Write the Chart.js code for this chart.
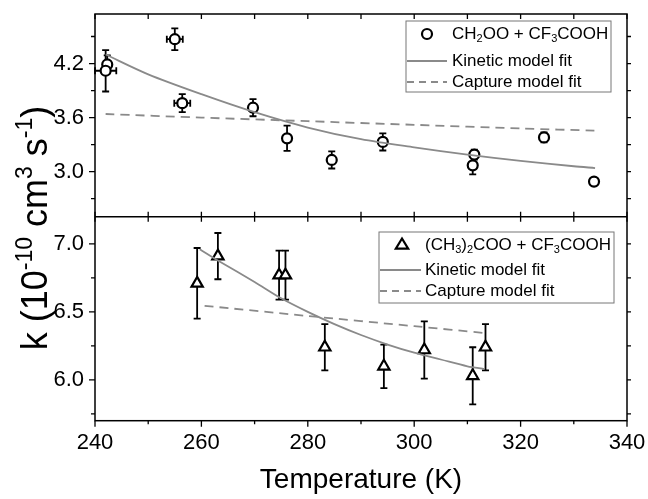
<!DOCTYPE html>
<html><head><meta charset="utf-8">
<script src="https://cdn.jsdelivr.net/npm/chart.js@4.4.0/dist/chart.umd.min.js"></script>
<style>html,body{margin:0;padding:0;background:#fff;}#wrap{position:relative;width:648px;height:499px;}</style>
</head><body><div id="wrap"><canvas id="c" width="648" height="499"></canvas></div>
<script>
// ---- data ----
const xTicks = [240, 260, 280, 300, 320, 340];
const topTicks = [3.0, 3.6, 4.2];
const botTicks = [6.0, 6.5, 7.0];

// CH2OO + CF3COOH
const topTemp  = [242.3, 242.0, 255.0, 256.4, 269.7, 276.1, 284.5, 294.1, 311.3, 311.0, 324.4, 333.8];
const topK     = [4.19, 4.12, 4.47, 3.76, 3.71, 3.37, 3.13, 3.33, 3.19, 3.07, 3.38, 2.89];
const topKErr  = [0.10, 0.23, 0.12, 0.10, 0.095, 0.14, 0.095, 0.095, 0.055, 0.10, 0.055, 0.04];
const topTErr  = [0, 2.0, 1.5, 1.5, 0, 0, 0, 0, 0, 0, 0, 0];
const topKinT  = [242, 250, 260, 270, 280, 290, 300, 310, 320, 330, 334];
const topKinK  = [4.30, 4.08, 3.86, 3.66, 3.49, 3.36, 3.27, 3.19, 3.12, 3.06, 3.04];
const topCapT  = [242, 260, 280, 300, 320, 334];
const topCapK  = [3.64, 3.60, 3.56, 3.52, 3.48, 3.455];

// (CH3)2COO + CF3COOH
const botTemp  = [259.2, 263.1, 274.6, 275.8, 283.2, 294.3, 301.9, 311.0, 313.4];
const botK     = [6.71, 6.91, 6.77, 6.77, 6.24, 6.10, 6.22, 6.03, 6.24];
const botKErr  = [0.26, 0.17, 0.18, 0.18, 0.17, 0.16, 0.21, 0.21, 0.17];
const botKinT  = [259.7, 263, 270, 275, 280, 285, 290, 295, 300, 305, 310, 313.2];
const botKinK  = [6.96, 6.88, 6.72, 6.60, 6.50, 6.41, 6.33, 6.26, 6.20, 6.15, 6.10, 6.08];
const botCapT  = [260.6, 280, 300, 313.2];
const botCapK  = [6.545, 6.47, 6.395, 6.345];

const FONT = '"Liberation Sans", Arial, Helvetica, sans-serif';
const GREY = '#8a8a8a';
const pts = (xs, ys) => xs.map((x, i) => ({x, y: ys[i]}));

function drawRich(ctx, parts, x, y, size, measureOnly) {
  let cx = x;
  for (const [t, m] of parts) {
    const s = m === 0 ? size : Math.round(size * 0.64);
    ctx.font = s + 'px ' + FONT;
    const dy = m === 1 ? size * 0.28 : (m === 2 ? -size * 0.42 : 0);
    if (!measureOnly) ctx.fillText(t, cx, y + dy);
    cx += ctx.measureText(t).width;
  }
  return cx - x;
}

function marker(ctx, kind, x, y) {
  ctx.save();
  ctx.lineWidth = 2.2; ctx.strokeStyle = '#000'; ctx.fillStyle = '#fff';
  ctx.beginPath();
  if (kind === 'circle') { ctx.arc(x, y, 5, 0, Math.PI * 2); }
  else { const r = 6.5; ctx.moveTo(x, y - r); ctx.lineTo(x + r * 0.95, y + r * 0.55); ctx.lineTo(x - r * 0.95, y + r * 0.55); ctx.closePath(); }
  ctx.fill(); ctx.stroke();
  ctx.restore();
}

const framePlugin = {
  id: 'frame',
  beforeDatasetsDraw(chart) {
    const {ctx, scales} = chart;
    const X = scales.x, yT = scales.yTop, yB = scales.yBot;
    ctx.save();
    ctx.strokeStyle = '#000'; ctx.lineWidth = 1.8;
    const cap = 3.5;
    const bar = (ys, temps, ks, errs, terrs) => {
      temps.forEach((t, i) => {
        const px = X.getPixelForValue(t);
        const y1 = ys.getPixelForValue(ks[i] + errs[i]);
        const y2 = ys.getPixelForValue(ks[i] - errs[i]);
        const py = ys.getPixelForValue(ks[i]);
        ctx.beginPath();
        ctx.moveTo(px, y1); ctx.lineTo(px, y2);
        ctx.moveTo(px - cap, y1); ctx.lineTo(px + cap, y1);
        ctx.moveTo(px - cap, y2); ctx.lineTo(px + cap, y2);
        if (terrs && terrs[i] > 0) {
          const x1 = X.getPixelForValue(t - terrs[i]);
          const x2 = X.getPixelForValue(t + terrs[i]);
          ctx.moveTo(x1, py); ctx.lineTo(x2, py);
          ctx.moveTo(x1, py - cap); ctx.lineTo(x1, py + cap);
          ctx.moveTo(x2, py - cap); ctx.lineTo(x2, py + cap);
        }
        ctx.stroke();
      });
    };
    bar(yT, topTemp, topK, topKErr, topTErr);
    bar(yB, botTemp, botK, botKErr, null);
    ctx.restore();
  },
  afterDatasetsDraw(chart) {
    const {ctx, chartArea: ca, scales} = chart;
    const X = scales.x, yT = scales.yTop, yB = scales.yBot;
    const div = yT.bottom;
    ctx.save();
    ctx.strokeStyle = '#000'; ctx.lineWidth = 1.5;
    ctx.strokeRect(ca.left, ca.top, ca.right - ca.left, ca.bottom - ca.top);
    ctx.beginPath(); ctx.moveTo(ca.left, div); ctx.lineTo(ca.right, div); ctx.stroke();
    ctx.lineWidth = 1.3;
    ctx.beginPath();
    for (let i = 0; i <= 10; i++) {
      const t = 240 + i * 10; const px = X.getPixelForValue(t); const major = i % 2 === 0;
      ctx.moveTo(px, ca.bottom); ctx.lineTo(px, ca.bottom + (major ? 6 : 3.5));
      ctx.moveTo(px, ca.top); ctx.lineTo(px, ca.top + 5);
      ctx.moveTo(px, div - 5); ctx.lineTo(px, div + 5);
    }
    for (let i = 0; i < 7; i++) {
      const v = 2.7 + i * 0.3; const py = yT.getPixelForValue(v); const major = i % 2 === 1;
      ctx.moveTo(ca.left, py); ctx.lineTo(ca.left - (major ? 6 : 4), py);
      ctx.moveTo(ca.right, py); ctx.lineTo(ca.right + 4, py);
    }
    for (let i = 0; i < 6; i++) {
      const v = 5.75 + i * 0.25; const py = yB.getPixelForValue(v); const major = i % 2 === 1;
      ctx.moveTo(ca.left, py); ctx.lineTo(ca.left - (major ? 6 : 4), py);
      ctx.moveTo(ca.right, py); ctx.lineTo(ca.right + 4, py);
    }
    ctx.stroke();

    ctx.fillStyle = '#000'; ctx.textBaseline = 'middle'; ctx.textAlign = 'left';
    const legend = (bx, by, bw, bh, mk, mx, rows, tx, lx1, lx2, label) => {
      ctx.save(); ctx.strokeStyle = '#777'; ctx.lineWidth = 1; ctx.fillStyle = '#fff';
      ctx.fillRect(bx, by, bw, bh); ctx.strokeRect(bx, by, bw, bh); ctx.restore();
      marker(ctx, mk, mx, rows[0]);
      drawRich(ctx, label, tx, rows[0], 17);
      ctx.save(); ctx.strokeStyle = GREY; ctx.lineWidth = 1.8;
      ctx.beginPath(); ctx.moveTo(lx1, rows[1]); ctx.lineTo(lx2, rows[1]); ctx.stroke();
      ctx.setLineDash([7, 5]);
      ctx.beginPath(); ctx.moveTo(lx1, rows[2]); ctx.lineTo(lx2, rows[2]); ctx.stroke();
      ctx.restore();
      drawRich(ctx, [['Kinetic model fit', 0]], tx, rows[1], 17);
      drawRich(ctx, [['Capture model fit', 0]], tx, rows[2], 17);
    };
    legend(406, 21, 205, 71, 'circle', 427, [34, 61, 82], 452, 407, 447,
      [['CH', 0], ['2', 1], ['OO + CF', 0], ['3', 1], ['COOH', 0]]);
    legend(379, 232, 235, 71, 'triangle', 402, [245, 270, 291], 425, 380, 421,
      [['(CH', 0], ['3', 1], [')', 0], ['2', 1], ['COO + CF', 0], ['3', 1], ['COOH', 0]]);

    const parts = [['k (10', 0], ['-10', 2], [' cm', 0], ['3', 2], [' s', 0], ['-1', 2], [')', 0]];
    ctx.save();
    ctx.translate(47, 228); ctx.rotate(-Math.PI / 2);
    ctx.textBaseline = 'alphabetic';
    const w = drawRich(ctx, parts, 0, 0, 36, true);
    drawRich(ctx, parts, -w / 2, 0, 36);
    ctx.restore();
    ctx.restore();
  }
};

const yScale = (min, max, ticks, weight) => ({
  type: 'linear', position: 'left', stack: 'k', stackWeight: weight, min, max,
  afterFit: s => { s.width = 95; s.paddingTop = 0; s.paddingBottom = 0; },
  afterBuildTicks: s => { s.ticks = ticks.map(v => ({value: v})); },
  grid: {drawOnChartArea: false, drawTicks: true, tickLength: 6, color: 'rgba(0,0,0,0)'},
  border: {display: false},
  ticks: {padding: 5, color: '#000', font: {family: FONT, size: 22}, callback: v => Number(v).toFixed(1)}
});

new Chart(document.getElementById('c'), {
  type: 'scatter',
  data: {
    datasets: [
      {data: pts(topKinT, topKinK), yAxisID: 'yTop', showLine: true, borderColor: GREY, borderWidth: 1.8, pointRadius: 0, tension: 0.3},
      {data: pts(topCapT, topCapK), yAxisID: 'yTop', showLine: true, borderColor: GREY, borderWidth: 1.8, borderDash: [9, 6], pointRadius: 0, tension: 0.3},
      {data: pts(topTemp, topK), yAxisID: 'yTop', showLine: false, pointStyle: 'circle', pointRadius: 5, borderWidth: 2.2, borderColor: '#000', backgroundColor: '#fff'},
      {data: pts(botKinT, botKinK), yAxisID: 'yBot', showLine: true, borderColor: GREY, borderWidth: 1.8, pointRadius: 0, tension: 0.3},
      {data: pts(botCapT, botCapK), yAxisID: 'yBot', showLine: true, borderColor: GREY, borderWidth: 1.8, borderDash: [9, 6], pointRadius: 0, tension: 0.3},
      {data: pts(botTemp, botK), yAxisID: 'yBot', showLine: false, pointStyle: 'triangle', pointRadius: 6.5, borderWidth: 2.2, borderColor: '#000', backgroundColor: '#fff'}
    ]
  },
  options: {
    responsive: false, animation: false, events: [],
    layout: {padding: {left: 0, right: 21, top: 14, bottom: 0}},
    plugins: {legend: {display: false}, tooltip: {enabled: false}},
    scales: {
      x: {
        type: 'linear', position: 'bottom', min: 240, max: 340,
        afterFit: s => { s.height = 78.3; s.paddingLeft = 0; s.paddingRight = 0; },
        afterBuildTicks: s => { s.ticks = xTicks.map(v => ({value: v})); },
        grid: {drawOnChartArea: false, drawTicks: true, tickLength: 6, color: 'rgba(0,0,0,0)'},
        border: {display: false},
        ticks: {padding: 3, maxRotation: 0, color: '#000', font: {family: FONT, size: 22}},
        title: {display: true, text: 'Temperature (K)', color: '#000', font: {family: FONT, size: 28}, padding: {top: 0, bottom: 2}}
      },
      yBot: yScale(5.7, 7.2, botTicks, 204),
      yTop: yScale(2.5, 4.75, topTicks, 202.7)
    }
  },
  plugins: [framePlugin]
});
</script></body></html>
